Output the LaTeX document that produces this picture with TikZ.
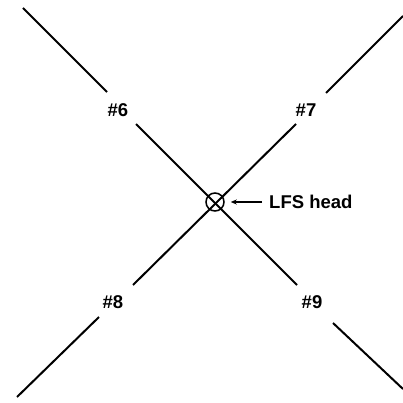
\documentclass[tikz,border=0pt]{standalone}
\usepackage{fontspec}
\setmainfont{Liberation Sans}
\usetikzlibrary{arrows.meta}

\begin{document}
\begin{tikzpicture}[x=1pt,y=-1pt,
  seg/.style={line width=2pt},
  lbl/.style={font=\bfseries\fontsize{18.5}{21}\selectfont,inner sep=0pt},
  ring/.style={draw,circle,line width=1.5pt,minimum size=18pt,inner sep=0pt},
  ptr/.style={-{Stealth[length=6pt,width=5pt]},line width=1.4pt}]
\useasboundingbox (0,0) rectangle (403,403);
\node[ring] (head) at (215,202) {};
\node[lbl] (l6) at (118,110) {\#6};
\node[lbl] (l7) at (306,110) {\#7};
\node[lbl] (l8) at (113,302) {\#8};
\node[lbl] (l9) at (312,302) {\#9};
\node[lbl,anchor=west] (lfs) at (269,202) {LFS head};
\coordinate (a6) at (23,8);   \coordinate (b6) at (107,92);
\coordinate (c6) at (136,124); \coordinate (d9) at (297,285);
\coordinate (e9) at (333,323); \coordinate (f9) at (403,389);
\coordinate (a7) at (403,16);  \coordinate (b7) at (326,93);
\coordinate (c7) at (296,124); \coordinate (d8) at (133,285);
\coordinate (e8) at (99,317);  \coordinate (f8) at (17,397);
\draw[seg] (a6)--(b6);
\draw[seg] (c6)--(d9);
\draw[seg] (e9)--(f9);
\draw[seg] (a7)--(b7);
\draw[seg] (c7)--(d8);
\draw[seg] (e8)--(f8);
\draw[ptr,shorten <=7pt,shorten >=6pt] (lfs.west)--(head.east);
\end{tikzpicture}
\end{document}
